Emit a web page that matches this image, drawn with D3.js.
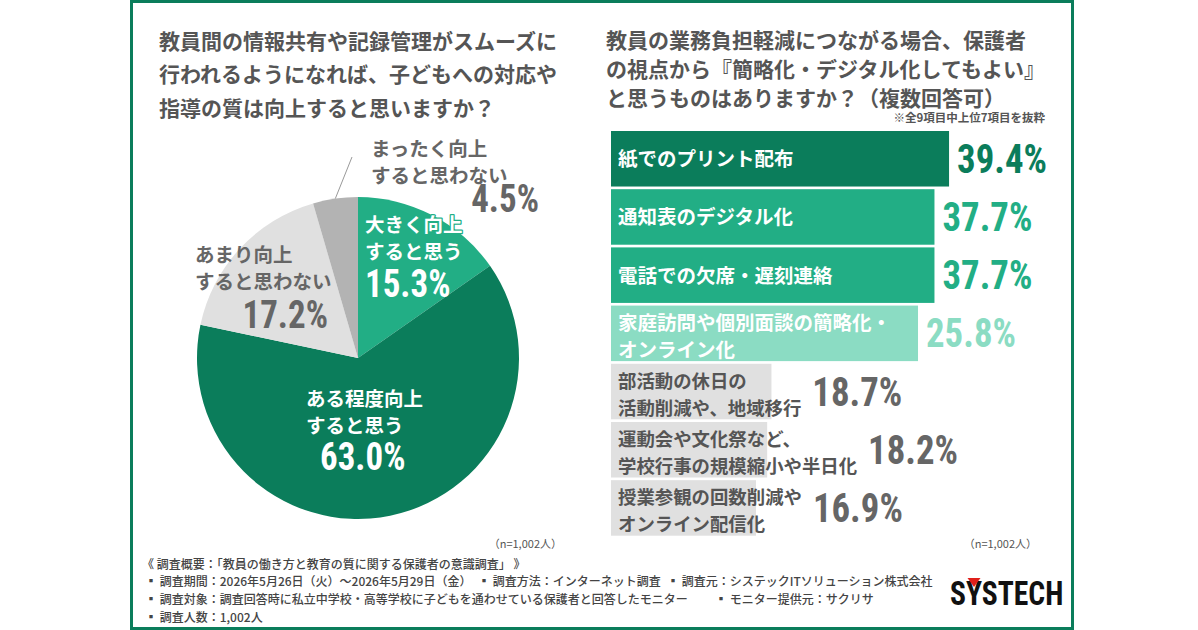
<!DOCTYPE html>
<html>
<head>
<meta charset="utf-8">
<script src="https://cdn.jsdelivr.net/npm/d3@7"></script>
<style>
  html, body { margin: 0; padding: 0; background: #fff; }
  svg { display: block; font-family: 'Noto Sans CJK JP', sans-serif; }
</style>
</head>
<body>
<svg width="1198" height="630"></svg>
<script>
// pie: 子どもへの対応や指導の質は向上するか
const pieCategories = [
    ['大きく向上', 'すると思う'],
    ['ある程度向上', 'すると思う'],
    ['あまり向上', 'すると思わない'],
    ['まったく向上', 'すると思わない']
];
const pieValues = [15.3, 63.0, 17.2, 4.5];

// bars: 簡略化・デジタル化してもよいもの (上位7項目)
const barCategories = [
    ['紙でのプリント配布'],
    ['通知表のデジタル化'],
    ['電話での欠席・遅刻連絡'],
    ['家庭訪問や個別面談の簡略化・', 'オンライン化'],
    ['部活動の休日の', '活動削減や、地域移行'],
    ['運動会や文化祭など、', '学校行事の規模縮小や半日化'],
    ['授業参観の回数削減や', 'オンライン配信化']
];
const barValues = [39.4, 37.7, 37.7, 25.8, 18.7, 18.2, 16.9];

const leftTitle = [
    '教員間の情報共有や記録管理がスムーズに',
    '行われるようになれば、子どもへの対応や',
    '指導の質は向上すると思いますか？'
];
const rightTitle = [
    '教員の業務負担軽減につながる場合、保護者',
    'の視点から『簡略化・デジタル化してもよい』',
    'と思うものはありますか？（複数回答可）'
];
const sampleNote = '（n=1,002人）';

const footerLines = [
    [{x: 142, t: '《 調査概要：「教員の働き方と教育の質に関する保護者の意識調査」 》'}],
    [{x: 145, t: '▪ 調査期間：2026年5月26日（火）～2026年5月29日（金）'},
     {x: 478, t: '▪ 調査方法：インターネット調査'},
     {x: 667, t: '▪ 調査元：システックITソリューション株式会社'}],
    [{x: 145, t: '▪ 調査対象：調査回答時に私立中学校・高等学校に子どもを通わせている保護者と回答したモニター'},
     {x: 715, t: '▪ モニター提供元：サクリサ'}],
    [{x: 145, t: '▪ 調査人数：1,002人'}]
];

const green = '#0b7d5b';
const pieColors = ['#22ae85', green, '#e0e0e0', '#b3b3b3'];
const pieTextColors = ['#fff', '#fff', '#666', '#666'];
const barColors = [green, '#22ae85', '#22ae85', '#8bdcc3', '#e0e0e0', '#e0e0e0', '#e0e0e0'];
const barTextColors = ['#fff', '#fff', '#fff', '#fff', '#555', '#555', '#555'];
const barPctColors = [green, '#22ae85', '#22ae85', '#8bdcc3', '#666', '#666', '#666'];

const numFont = "'Liberation Sans Narrow', 'Roboto Condensed', 'Liberation Sans', sans-serif";

const svg = d3.select('svg');

// frame
svg.append('rect')
    .attr('x', 131.5).attr('y', 1.5)
    .attr('width', 941).attr('height', 627)
    .attr('fill', '#fff')
    .attr('stroke', green)
    .attr('stroke-width', 3);

function titleBlock(lines, x, y0, step) {
    svg.append('g').selectAll('text')
        .data(lines)
        .join('text')
        .attr('x', x)
        .attr('y', (d, i) => y0 + i * step)
        .attr('dominant-baseline', 'central')
        .attr('font-size', 21)
        .attr('font-weight', 700)
        .attr('fill', '#555')
        .text(d => d);
}

titleBlock(leftTitle, 159, 40, 33.3);
titleBlock(rightTitle, 606, 39, 29);

// condensed number label
function pct(g, x, y, value, size, color, anchor) {
    g.append('text')
        .attr('transform', `translate(${x},${y}) scale(0.92,1)`)
        .attr('text-anchor', anchor || 'start')
        .attr('font-family', numFont)
        .attr('font-size', size)
        .attr('font-weight', 700)
        .attr('fill', color)
        .text(value.toFixed(1) + '%');
}

// ---------- pie ----------
const cx = 358, cy = 358, r = 161;
const pie = d3.pie().sort(null).value(d => d);
const arc = d3.arc().innerRadius(0).outerRadius(r);
const arcs = pie(pieValues);

const pieG = svg.append('g').attr('transform', `translate(${cx},${cy})`);
pieG.selectAll('path')
    .data(arcs)
    .join('path')
    .attr('d', arc)
    .attr('fill', (d, i) => pieColors[i]);

// label placement relative to the pie centre
const pieLabelLayout = [
    {lx: 7, ly: -135, px: 7, py: -61, pa: 'start'},
    {lx: -52, ly: 39, px: -38, py: 112, pa: 'start'},
    {lx: -163, ly: -105, px: -30, py: -30, pa: 'end'},
    {lx: 13, ly: -211, px: 181, py: -146, pa: 'end'}
];

// leader line for the smallest slice
const small = arcs[3];
const mid = (small.startAngle + small.endAngle) / 2;
pieG.append('line')
    .attr('x1', Math.sin(mid) * r).attr('y1', -Math.cos(mid) * r)
    .attr('x2', -6).attr('y2', -201)
    .attr('stroke', '#999')
    .attr('stroke-width', 1);

arcs.forEach((a, i) => {
    const L = pieLabelLayout[i];
    pieCategories[i].forEach((t, j) => {
        const tx = pieG.append('text')
            .attr('x', L.lx)
            .attr('y', L.ly + j * 27)
            .attr('dominant-baseline', 'central')
            .attr('font-size', 19.5)
            .attr('font-weight', 700)
            .attr('fill', pieTextColors[i])
            .text(t);
        // first label runs past the slice edge: keep it readable with a halo
        if (i === 0) {
            tx.attr('stroke', pieColors[0])
                .attr('stroke-width', 2.5)
                .attr('stroke-linejoin', 'round')
                .attr('paint-order', 'stroke');
        }
    });
    pct(pieG, L.px, L.py, a.data, 38, pieTextColors[i], L.pa);
});

svg.append('text')
    .attr('x', 562).attr('y', 543)
    .attr('text-anchor', 'end')
    .attr('dominant-baseline', 'central')
    .attr('font-size', 11)
    .attr('fill', '#555')
    .text(sampleNote);

// ---------- bars ----------
const barLeft = 611;
const x = d3.scaleLinear().domain([0, 100]).range([0, 858]);
const y = d3.scaleBand()
    .domain(d3.range(barValues.length))
    .range([131, 535.7])
    .paddingInner(0.046);

svg.append('text')
    .attr('x', 1045).attr('y', 117)
    .attr('text-anchor', 'end')
    .attr('dominant-baseline', 'central')
    .attr('font-size', 11.5)
    .attr('font-weight', 700)
    .attr('fill', '#555')
    .text('※全9項目中上位7項目を抜粋');

const barG = svg.append('g');
barValues.forEach((v, i) => {
    const g = barG.append('g');
    const yc = y(i) + y.bandwidth() / 2;
    const rect = g.append('rect')
        .attr('x', barLeft)
        .attr('y', y(i))
        .attr('height', y.bandwidth())
        .attr('fill', barColors[i]);
    const lines = barCategories[i];
    const coloured = barTextColors[i] === '#fff';
    const fs = coloured ? 19.5 : 18.4;
    let textW = 0;
    lines.forEach((t, j) => {
        const tx = g.append('text')
            .attr('x', barLeft + 7)
            .attr('y', yc + (lines.length === 1 ? -1 : (j - 0.5) * 27 + 1.5))
            .attr('dominant-baseline', 'central')
            .attr('font-size', fs)
            .attr('font-weight', 700)
            .attr('fill', barTextColors[i])
            .text(t);
        textW = Math.max(textW, tx.node().getComputedTextLength());
    });
    const textEnd = barLeft + 7 + textW;
    let w = x(v);
    // coloured bars grow to hold their white label
    if (coloured) w = Math.max(w, textEnd + 27 - barLeft);
    rect.attr('width', w);
    const lx = Math.max(barLeft + w + 8, textEnd + 11);
    pct(g, lx, yc + 14, v, 40, barPctColors[i]);
});

svg.append('text')
    .attr('x', 1037).attr('y', 543)
    .attr('text-anchor', 'end')
    .attr('dominant-baseline', 'central')
    .attr('font-size', 11)
    .attr('fill', '#555')
    .text(sampleNote);

// ---------- footer ----------
const footG = svg.append('g');
footerLines.forEach((row, i) => {
    row.forEach(seg => {
        footG.append('text')
            .attr('x', seg.x)
            .attr('y', 563 + i * 17.8)
            .attr('dominant-baseline', 'central')
            .attr('font-size', 12)
            .attr('font-weight', 500)
            .attr('fill', '#444')
            .text(seg.t);
    });
});

// logo
const logo = svg.append('g');
logo.append('text')
    .attr('transform', 'translate(950,605) scale(0.87,1)')
    .attr('font-family', numFont)
    .attr('font-size', 34)
    .attr('font-weight', 700)
    .attr('fill', '#111')
    .text('SYSTECH');
logo.append('path')
    .attr('d', 'M967.5,578 L980.5,578 L974,587 Z')
    .attr('fill', '#e0201b');
</script>
</body>
</html>
